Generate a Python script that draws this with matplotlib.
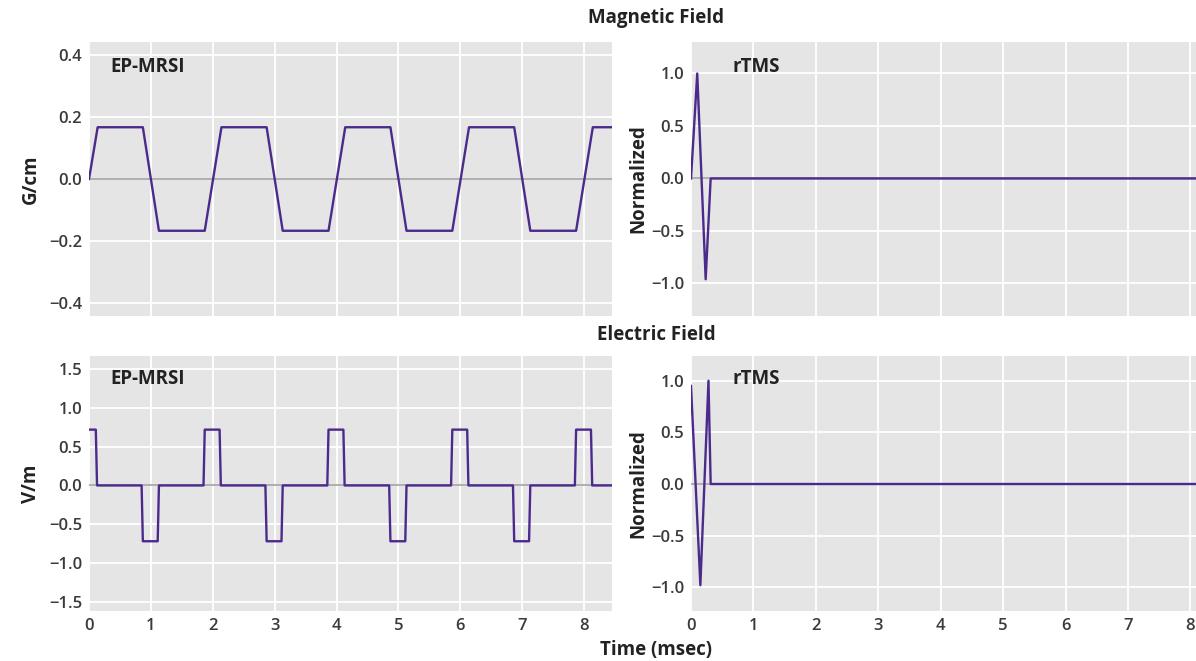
import matplotlib
matplotlib.use("Agg")
import matplotlib.pyplot as plt

plt.rcParams['font.family'] = ['Open Sans', 'DejaVu Sans']

# ---- data ----
t_grad = [0, 0.14, 0.87, 1.13, 1.87, 2.14, 2.87, 3.13, 3.87, 4.14, 4.87, 5.13,
          5.87, 6.14, 6.87, 7.13, 7.87, 8.14, 8.45]
g_grad = [0, 0.167, 0.167, -0.167, -0.167, 0.167, 0.167, -0.167, -0.167, 0.167,
          0.167, -0.167, -0.167, 0.167, 0.167, -0.167, -0.167, 0.167, 0.167]

t_efield = [0, 0.11, 0.13, 0.85, 0.87, 1.11, 1.13, 1.85, 1.87, 2.11, 2.13,
            2.85, 2.87, 3.11, 3.13, 3.85, 3.87, 4.11, 4.13, 4.85, 4.87, 5.11, 5.13,
            5.85, 5.87, 6.11, 6.13, 6.85, 6.87, 7.11, 7.13, 7.85, 7.87, 8.11, 8.13, 8.45]
e_efield = [0.72, 0.72, 0, 0, -0.72, -0.72, 0, 0, 0.72, 0.72, 0,
            0, -0.72, -0.72, 0, 0, 0.72, 0.72, 0, 0, -0.72, -0.72, 0,
            0, 0.72, 0.72, 0, 0, -0.72, -0.72, 0, 0, 0.72, 0.72, 0, 0]

t_tms_b = [0, 0.10, 0.235, 0.315, 8.1]
v_tms_b = [0, 1.0, -0.96, 0, 0]

t_tms_e = [0, 0.15, 0.28, 0.315, 8.1]
v_tms_e = [0.95, -0.98, 1.0, 0, 0]

x_ticks = [0, 1, 2, 3, 4, 5, 6, 7, 8]

LINE = '#4B2A8C'
BG = '#E5E5E5'
TXT = '#3A3A3A'

fig = plt.figure(figsize=(11.96, 6.61), dpi=100)

W = 1196.0
H = 661.0
def pos(x0, y0, x1, y1):
    return [x0 / W, 1 - y1 / H, (x1 - x0) / W, (y1 - y0) / H]

ax_tl = fig.add_axes(pos(89, 42, 612, 316))
ax_tr = fig.add_axes(pos(691, 42, 1196, 316))
ax_bl = fig.add_axes(pos(89, 356, 612, 611))
ax_br = fig.add_axes(pos(691, 356, 1196, 611))

def style(ax, xmax, ylim, yticks, yticklabels, show_x):
    ax.set_facecolor(BG)
    for s in ax.spines.values():
        s.set_visible(False)
    ax.set_xlim(0, xmax)
    ax.set_ylim(*ylim)
    ax.set_xticks(x_ticks)
    ax.set_yticks(yticks)
    ax.set_yticklabels(yticklabels)
    if not show_x:
        ax.set_xticklabels([])
    ax.grid(True, color='white', linewidth=1.3)
    ax.set_axisbelow(True)
    ax.tick_params(length=0, labelsize=12, labelcolor=TXT, pad=5)
    for t in ax.get_xticklabels() + ax.get_yticklabels():
        t.set_fontweight('semibold')
    ax.axhline(0, color='#A8A8A8', linewidth=1.3, zorder=1)

def fmt(vals, nd):
    out = []
    for v in vals:
        s = f"{v:.{nd}f}"
        out.append(s.replace('-', '\u2212'))
    return out

yt_g = [-0.4, -0.2, 0.0, 0.2, 0.4]
yt_e = [-1.5, -1.0, -0.5, 0.0, 0.5, 1.0, 1.5]
yt_n = [-1.0, -0.5, 0.0, 0.5, 1.0]

style(ax_tl, 8.45, (-0.442, 0.442), yt_g, fmt(yt_g, 1), False)
style(ax_tr, 8.09, (-1.31, 1.3), yt_n, fmt(yt_n, 1), False)
style(ax_bl, 8.45, (-1.62, 1.67), yt_e, fmt(yt_e, 1), True)
style(ax_br, 8.09, (-1.23, 1.24), yt_n, fmt(yt_n, 1), True)

ax_tl.plot(t_grad, g_grad, color=LINE, lw=1.7, zorder=3)
ax_tr.plot(t_tms_b, v_tms_b, color=LINE, lw=1.7, zorder=3)
ax_bl.plot(t_efield, e_efield, color=LINE, lw=1.7, zorder=3)
ax_br.plot(t_tms_e, v_tms_e, color=LINE, lw=1.7, zorder=3)

lab = dict(fontsize=13.5, fontweight='bold', color='#222222')
ax_tl.set_ylabel('G/cm', labelpad=6, **lab)
ax_bl.set_ylabel('V/m', labelpad=6, **lab)
ax_tr.set_ylabel('Normalized', labelpad=2, **lab)
ax_br.set_ylabel('Normalized', labelpad=2, **lab)

for ax, name in [(ax_tl, 'EP-MRSI'), (ax_bl, 'EP-MRSI')]:
    ax.text(0.04, 0.91, name, transform=ax.transAxes, ha='left', va='center', **lab)
for ax, name in [(ax_tr, 'rTMS'), (ax_br, 'rTMS')]:
    ax.text(0.083, 0.91, name, transform=ax.transAxes, ha='left', va='center', **lab)

fig.text(656 / W, 1 - 18 / H, 'Magnetic Field', ha='center', va='center', **lab)
fig.text(656 / W, 1 - 335 / H, 'Electric Field', ha='center', va='center', **lab)
fig.text(656 / W, 1 - 650 / H, 'Time (msec)', ha='center', va='center', **lab)

fig.savefig('out.png', dpi=100, facecolor='white')
